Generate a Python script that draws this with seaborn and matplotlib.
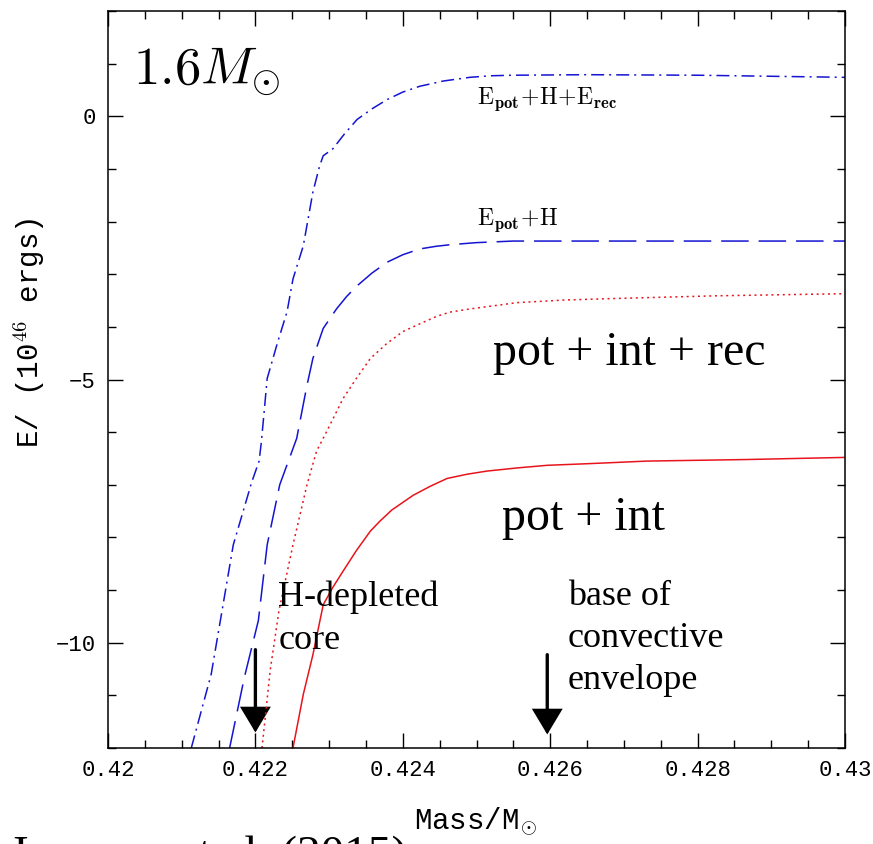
import numpy as np
import pandas as pd
import matplotlib
matplotlib.use("Agg")
import matplotlib.pyplot as plt
import seaborn as sns
from matplotlib.ticker import MultipleLocator, FixedLocator, FixedFormatter
from matplotlib.patches import FancyArrowPatch

# ---------------- data ----------------
m_tot = [0.42113, 0.42140, 0.42170, 0.42195, 0.42205, 0.42208, 0.42216, 0.42230,
         0.42243, 0.42251, 0.42265, 0.42278, 0.42287, 0.42292, 0.42305, 0.42320,
         0.42338, 0.42358, 0.42379, 0.42400, 0.42423, 0.42455, 0.42491, 0.42520,
         0.42550, 0.42650, 0.42800, 0.43000]
e_tot = [-12.0, -10.6, -8.14, -6.95, -6.55, -6.2, -4.98, -4.3,
         -3.71, -3.09, -2.46, -1.44, -0.95, -0.75, -0.62, -0.35,
         -0.06, 0.14, 0.32, 0.46, 0.57, 0.67, 0.74, 0.77,
         0.78, 0.79, 0.78, 0.74]

m_h = [0.42165, 0.42185, 0.42204, 0.42216, 0.42233, 0.42256, 0.42270, 0.42278,
       0.42292, 0.42310, 0.42324, 0.42338, 0.42358, 0.42379, 0.42400, 0.42423,
       0.42445, 0.42464, 0.42500, 0.42550, 0.42700, 0.43000]
e_h = [-12.0, -10.66, -9.58, -8.14, -7.0, -6.12, -5.11, -4.6,
       -4.03, -3.66, -3.42, -3.22, -2.98, -2.77, -2.63, -2.52,
       -2.47, -2.44, -2.40, -2.37, -2.37, -2.37]

m_rec = [0.42209, 0.42220, 0.42232, 0.42251, 0.42270, 0.42283, 0.42297, 0.42319,
         0.42336, 0.42356, 0.42378, 0.42400, 0.42425, 0.42446, 0.42464, 0.42491,
         0.42555, 0.42620, 0.42691, 0.42826, 0.43000]
e_rec = [-12.0, -10.53, -9.39, -8.14, -7.0, -6.36, -5.98, -5.36,
         -5.0, -4.6, -4.32, -4.09, -3.93, -3.80, -3.72, -3.66,
         -3.54, -3.49, -3.46, -3.41, -3.37]

m_int = [0.42251, 0.42265, 0.42278, 0.42292, 0.42305, 0.42319, 0.42337, 0.42356,
         0.42369, 0.42385, 0.42414, 0.42437, 0.42460, 0.42487, 0.42514, 0.42555,
         0.42596, 0.42650, 0.42731, 0.42867, 0.43000]
e_int = [-12.0, -10.98, -10.23, -9.28, -8.95, -8.64, -8.25, -7.88,
         -7.69, -7.48, -7.2, -7.03, -6.88, -6.80, -6.74, -6.68,
         -6.63, -6.60, -6.55, -6.52, -6.48]

x_ticks = [0.420, 0.422, 0.424, 0.426, 0.428, 0.430]
x_tick_labels = ["0.42", "0.422", "0.424", "0.426", "0.428", "0.43"]
y_ticks = [-10, -5, 0]
y_tick_labels = ["\u221210", "\u22125", "0"]

arrow_core_x = 0.4220
arrow_env_x = 0.42596

# ---------------- style ----------------
sns.set_style("ticks")
plt.rcParams["font.family"] = ["Liberation Mono", "DejaVu Sans"]
plt.rcParams["mathtext.fontset"] = "cm"
plt.rcParams["axes.linewidth"] = 1.1
for k in ["text.color", "axes.labelcolor", "xtick.color", "ytick.color", "axes.edgecolor"]:
    plt.rcParams[k] = "black"

fig = plt.figure(figsize=(8.73, 8.44), dpi=100)
ax = fig.add_axes([108 / 873, 1 - 748 / 844, (845 - 108) / 873, (748 - 11) / 844])

blue = "#1414d2"
red = "#e8141c"
lw = 1.1

sns.lineplot(x=m_tot, y=e_tot, ax=ax, color=blue, lw=lw, sort=False, estimator=None,
             linestyle=(0, (8.5, 3.3, 1.3, 3.3)))
sns.lineplot(x=m_h, y=e_h, ax=ax, color=blue, lw=lw, sort=False, estimator=None,
             linestyle=(0, (18, 6.5)))
sns.lineplot(x=m_rec, y=e_rec, ax=ax, color=red, lw=lw, sort=False, estimator=None,
             linestyle=(0, (1.3, 2.4)))
sns.lineplot(x=m_int, y=e_int, ax=ax, color=red, lw=lw, sort=False, estimator=None,
             linestyle="-")

ax.set_xlim(0.420, 0.430)
ax.set_ylim(-12, 2)

ax.xaxis.set_major_locator(FixedLocator(x_ticks))
ax.xaxis.set_major_formatter(FixedFormatter(x_tick_labels))
ax.xaxis.set_minor_locator(MultipleLocator(0.0005))
ax.yaxis.set_major_locator(FixedLocator(y_ticks))
ax.yaxis.set_major_formatter(FixedFormatter(y_tick_labels))
ax.yaxis.set_minor_locator(MultipleLocator(1))

ax.tick_params(which="both", direction="in", top=True, right=True, color="black",
               width=1.0)
ax.tick_params(which="major", length=11, labelsize=16, pad=9)
ax.tick_params(which="minor", length=5.5)
for sp in ax.spines.values():
    sp.set_color("black")
    sp.set_visible(True)

ax.set_xlabel(r"Mass/M$_{\odot}$", fontsize=21)
ax.set_ylabel(r"E/ (10$^{46}$ ergs)", fontsize=21)
ax.xaxis.set_label_coords(0.498, -0.078)
ax.yaxis.set_label_coords(-0.083, 0.564)
ax.xaxis.label.set_va("top")

# ---------------- annotations ----------------
ax.text(0.42034, 0.606, r"$1.6M_{\odot}$", fontsize=38, ha="left", va="baseline")
ax.text(0.42501, 0.227,
        r"$\mathrm{E}_{\mathbf{pot}}\!+\!\mathrm{H}\!+\!\mathrm{E}_{\mathbf{rec}}$",
        fontsize=17, ha="left", va="baseline")
ax.text(0.42501, -2.06, r"$\mathrm{E}_{\mathbf{pot}}\!+\!\mathrm{H}$",
        fontsize=17, ha="left", va="baseline")

serif = ["Liberation Serif", "DejaVu Serif"]
ax.text(0.42522, -4.72, "pot + int + rec", fontsize=34.5, family=serif,
        ha="left", va="baseline")
ax.text(0.42535, -7.86, "pot + int", fontsize=34.5, family=serif,
        ha="left", va="baseline")

def ypix(py):
    return -(py - 117) / 52.8

ax.text(0.42231, ypix(608), "H-depleted", fontsize=26, family=serif, ha="left", va="baseline")
ax.text(0.42231, ypix(651), "core", fontsize=26, family=serif, ha="left", va="baseline")
ax.text(0.42624, ypix(607), "base of", fontsize=26, family=serif, ha="left", va="baseline")
ax.text(0.42624, ypix(649), "convective", fontsize=26, family=serif, ha="left", va="baseline")
ax.text(0.42624, ypix(691), "envelope", fontsize=26, family=serif, ha="left", va="baseline")

for xa, y0, y1 in [(arrow_core_x, ypix(652), ypix(735)), (arrow_env_x, ypix(657), ypix(737))]:
    arr = FancyArrowPatch((xa, y0), (xa, y1),
                          arrowstyle="-|>,head_length=15,head_width=9",
                          mutation_scale=1, lw=2.4, color="black",
                          shrinkA=0, shrinkB=0, joinstyle="miter")
    ax.add_patch(arr)

fig.text(13 / 873, (844 - 868) / 844, "Ivanova et al. (2015)", fontsize=34,
         family=serif, ha="left", va="baseline")

fig.savefig("out.png", dpi=100)
